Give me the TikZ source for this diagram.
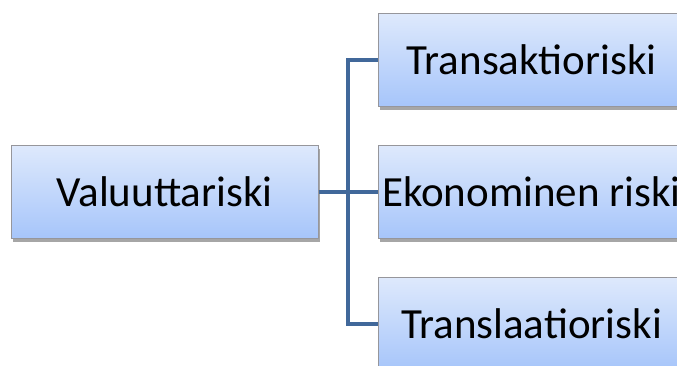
\documentclass[tikz,border=0pt]{standalone}
\usepackage{fontspec}
\setmainfont{Carlito}
\usetikzlibrary{shadows}
\definecolor{boxtop}{RGB}{222,233,252}
\definecolor{boxbot}{RGB}{166,197,250}
\definecolor{boxline}{RGB}{150,150,155}
\definecolor{conn}{RGB}{65,104,154}
\tikzset{
  rbox/.style={draw=boxline, line width=1pt, top color=boxtop, bottom color=boxbot,
    minimum width=307pt, minimum height=93pt, inner sep=0pt, font=\fontsize{43}{48}\selectfont,
    drop shadow={shadow xshift=2pt, shadow yshift=-3pt, opacity=0.35, fill=black}},
  connline/.style={draw=conn, line width=4pt}
}
\begin{document}
\begin{tikzpicture}[x=1pt,y=1pt]
\useasboundingbox (0,0) rectangle (677,-365);
\clip (0,0) rectangle (677,-365);
\node[rbox] (val) at (164.5,-192) {Valuuttariski};
\node[rbox] (tra) at (531.5,-60) {Transaktioriski};
\node[rbox] (eko) at (531.5,-192) {Ekonominen riski};
\node[rbox] (trl) at (531.5,-324) {Translaatioriski};
\coordinate (jx) at (348,-192);
\begin{scope}[on background layer/.try]
\draw[connline] (val.east) -- (eko.west);
\draw[connline] (tra.west) -| (jx |- tra.west) |- (trl.west);
\end{scope}
\end{tikzpicture}
\end{document}
